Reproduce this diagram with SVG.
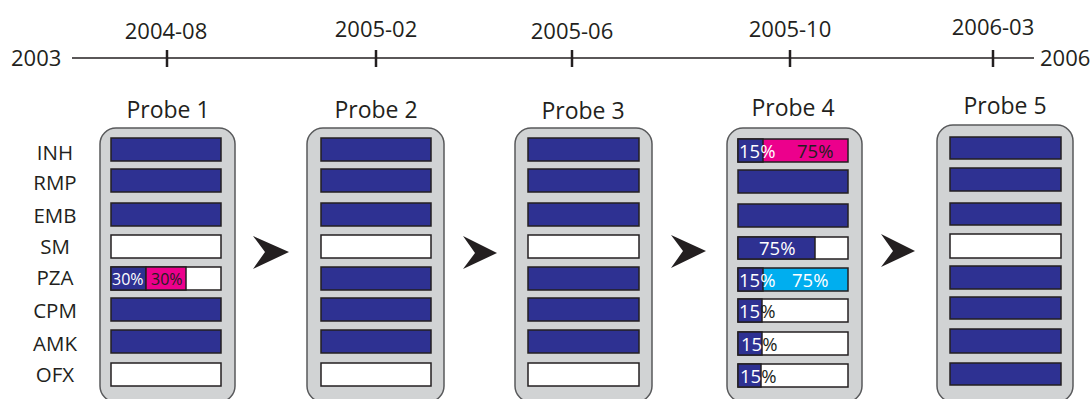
<svg xmlns="http://www.w3.org/2000/svg" width="1091" height="399" viewBox="0 0 1091 399">
  <style>
    text { font-family: "Open Sans", "Liberation Sans", sans-serif; fill: #231f20; }
    .date { font-size: 22px; text-anchor: middle; }
    .year { font-size: 22px; }
    .drug { font-size: 20.5px; text-anchor: middle; }
    .title { font-size: 23px; text-anchor: middle; }
    .pct { font-size: 18.5px; }
    .pct16 { font-size: 16px; }
    .light { fill: #ffffff; }
    .axis { stroke: #231f20; stroke-width: 1.5; fill: none; }
    .tick { stroke: #231f20; stroke-width: 2.5; }
    .panel { fill: #d1d3d4; stroke: #58595b; stroke-width: 1.5; }
    .bar { stroke: #231f20; stroke-width: 1.5; }
    .n { fill: #2e3192; }
    .w { fill: #ffffff; }
    .m { fill: #ec008c; }
    .c { fill: #00aeef; }
    .arrow { fill: #231f20; }
  </style>

  <!-- timeline -->
  <g id="timeline">
    <line class="axis" x1="72" y1="58" x2="1034" y2="58"/>
    <line class="tick" x1="167" y1="50" x2="167" y2="67"/>
    <line class="tick" x1="376" y1="50" x2="376" y2="67"/>
    <line class="tick" x1="572" y1="50" x2="572" y2="67"/>
    <line class="tick" x1="790" y1="50" x2="790" y2="67"/>
    <line class="tick" x1="993" y1="50" x2="993" y2="67"/>
    <text class="year" x="11" y="66">2003</text>
    <text class="year" x="1040" y="66">2006</text>
    <text class="date" x="166" y="39">2004-08</text>
    <text class="date" x="376" y="37">2005-02</text>
    <text class="date" x="572" y="39">2005-06</text>
    <text class="date" x="790" y="37">2005-10</text>
    <text class="date" x="993" y="35">2006-03</text>
  </g>

  <!-- drug labels -->
  <g id="drugs">
    <text class="drug" x="55" y="160">INH</text>
    <text class="drug" x="55" y="190">RMP</text>
    <text class="drug" x="55" y="223">EMB</text>
    <text class="drug" x="55" y="254">SM</text>
    <text class="drug" x="55" y="285">PZA</text>
    <text class="drug" x="55" y="318">CPM</text>
    <text class="drug" x="55" y="351">AMK</text>
    <text class="drug" x="55" y="382">OFX</text>
  </g>

  <!-- Probe 1 -->
  <g id="probe1">
    <text class="title" x="168" y="118">Probe 1</text>
    <rect class="panel" x="100" y="128" width="135" height="274" rx="16"/>
    <rect class="bar n" x="111" y="138" width="110" height="23"/>
    <rect class="bar n" x="111" y="169" width="110" height="23"/>
    <rect class="bar n" x="111" y="203" width="110" height="23"/>
    <rect class="bar w" x="111" y="235" width="110" height="23"/>
    <rect class="bar w" x="111" y="267" width="110" height="23"/>
    <rect class="bar n" x="111" y="267" width="35" height="23"/>
    <rect class="bar m" x="146" y="267" width="40" height="23"/>
    <text class="pct16 light" x="112" y="285">30%</text>
    <text class="pct16" x="151" y="285">30%</text>
    <rect class="bar n" x="111" y="298" width="110" height="23"/>
    <rect class="bar n" x="111" y="330" width="110" height="23"/>
    <rect class="bar w" x="111" y="363" width="110" height="23"/>
  </g>

  <!-- Probe 2 -->
  <g id="probe2">
    <text class="title" x="376" y="118">Probe 2</text>
    <rect class="panel" x="307" y="128" width="137" height="274" rx="16"/>
    <rect class="bar n" x="321" y="138" width="110" height="23"/>
    <rect class="bar n" x="321" y="169" width="110" height="23"/>
    <rect class="bar n" x="321" y="203" width="110" height="23"/>
    <rect class="bar w" x="321" y="235" width="110" height="23"/>
    <rect class="bar n" x="321" y="267" width="110" height="23"/>
    <rect class="bar n" x="321" y="298" width="110" height="23"/>
    <rect class="bar n" x="321" y="330" width="110" height="23"/>
    <rect class="bar w" x="321" y="363" width="110" height="23"/>
  </g>

  <!-- Probe 3 -->
  <g id="probe3">
    <text class="title" x="583" y="119">Probe 3</text>
    <rect class="panel" x="515" y="128" width="137" height="274" rx="16"/>
    <rect class="bar n" x="528" y="138" width="111" height="23"/>
    <rect class="bar n" x="528" y="169" width="111" height="23"/>
    <rect class="bar n" x="528" y="203" width="111" height="23"/>
    <rect class="bar w" x="528" y="235" width="111" height="23"/>
    <rect class="bar n" x="528" y="267" width="111" height="23"/>
    <rect class="bar n" x="528" y="298" width="111" height="23"/>
    <rect class="bar n" x="528" y="330" width="111" height="23"/>
    <rect class="bar w" x="528" y="363" width="111" height="23"/>
  </g>

  <!-- Probe 4 -->
  <g id="probe4">
    <text class="title" x="793" y="116">Probe 4</text>
    <rect class="panel" x="727" y="128" width="135" height="274" rx="16"/>
    <!-- INH -->
    <rect class="bar m" x="738" y="139" width="110" height="23"/>
    <rect class="bar n" x="738" y="139" width="25" height="23"/>
    <text class="pct light" x="739" y="158">15%</text>
    <text class="pct" x="797" y="158">75%</text>
    <!-- RMP, EMB -->
    <rect class="bar n" x="738" y="170" width="110" height="23"/>
    <rect class="bar n" x="738" y="204" width="110" height="23"/>
    <!-- SM -->
    <rect class="bar w" x="738" y="237" width="110" height="22"/>
    <rect class="bar n" x="738" y="237" width="77" height="22"/>
    <text class="pct light" x="759" y="255">75%</text>
    <!-- PZA -->
    <rect class="bar c" x="738" y="268" width="110" height="23"/>
    <rect class="bar n" x="738" y="268" width="25" height="23"/>
    <text class="pct light" x="739" y="287">15%</text>
    <text class="pct light" x="792" y="287">75%</text>
    <!-- CPM -->
    <rect class="bar w" x="738" y="299" width="110" height="23"/>
    <rect class="bar n" x="738" y="299" width="24" height="23"/>
    <text class="pct" x="739" y="318"><tspan class="light">15</tspan>%</text>
    <!-- AMK -->
    <rect class="bar w" x="738" y="332" width="110" height="23"/>
    <rect class="bar n" x="738" y="332" width="24" height="23"/>
    <text class="pct" x="741" y="351"><tspan class="light">15</tspan>%</text>
    <!-- OFX -->
    <rect class="bar w" x="738" y="364" width="110" height="23"/>
    <rect class="bar n" x="738" y="364" width="23" height="23"/>
    <text class="pct" x="740" y="383"><tspan class="light">15</tspan>%</text>
  </g>

  <!-- Probe 5 -->
  <g id="probe5">
    <text class="title" x="1005" y="114">Probe 5</text>
    <rect class="panel" x="937" y="125" width="136" height="277" rx="16"/>
    <rect class="bar n" x="950" y="137" width="111" height="22"/>
    <rect class="bar n" x="950" y="168" width="111" height="23"/>
    <rect class="bar n" x="950" y="203" width="111" height="22"/>
    <rect class="bar w" x="950" y="234" width="111" height="24"/>
    <rect class="bar n" x="950" y="266" width="111" height="23"/>
    <rect class="bar n" x="950" y="297" width="111" height="22"/>
    <rect class="bar n" x="950" y="329" width="111" height="24"/>
    <rect class="bar n" x="950" y="363" width="111" height="22"/>
  </g>

  <!-- transitions between probes -->
  <g id="connectors">
    <polygon class="arrow" points="253,236 289,252 253,269 265,252"/>
    <polygon class="arrow" points="463,236 497,253 463,269 475,253"/>
    <polygon class="arrow" points="671,235 706,251 671,268 683,251"/>
    <polygon class="arrow" points="881,234 915,251 881,267 893,251"/>
  </g>
</svg>
